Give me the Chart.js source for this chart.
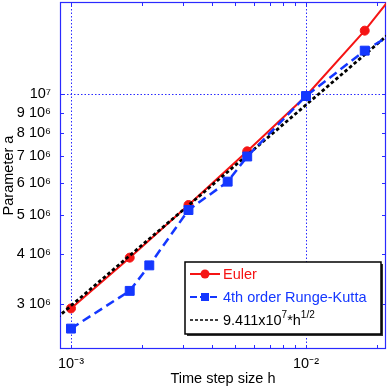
<!DOCTYPE html>
<html>
<head>
<meta charset="utf-8">
<script src="https://cdn.jsdelivr.net/npm/chart.js@4.4.1/dist/chart.umd.min.js"></script>
<style>
  html, body { margin: 0; padding: 0; background: #fff; }
  #wrap { width: 388px; height: 390px; }
</style>
</head>
<body>
<div id="wrap"><canvas id="chart" width="388" height="390"></canvas></div>
<script>
// values
const hEuler = [1e-3, 1.778e-3, 3.162e-3, 5.623e-3, 1e-2, 1.778e-2, 3.162e-2];
const aEuler = [2.93e6, 3.92e6, 5.30e6, 7.21e6, 9.90e6, 1.44e7, 2.20e7];

const hRK = [1e-3, 1.778e-3, 2.154e-3, 3.162e-3, 4.642e-3, 5.623e-3, 1e-2, 1.778e-2, 3.162e-2];
const aRK = [2.61e6, 3.24e6, 3.75e6, 5.15e6, 6.06e6, 7.00e6, 9.90e6, 1.284e7, 1.57e7];

// 9.411e7 * h^(1/2), the two ends lie just past the axis limits
const hFit = [8e-4, 2.5e-2];
const aFit = [2.66e6, 1.488e7];

const xTickValues = [1e-3, 1e-2];
const xTickLabels = ['10⁻³', '10⁻²'];
const xMinorTicks = [2e-3, 3e-3, 4e-3, 5e-3, 6e-3, 7e-3, 8e-3, 9e-3, 2e-2];

const yTickValues = [3e6, 4e6, 5e6, 6e6, 7e6, 8e6, 9e6, 1e7];
const yTickLabels = ['3 10⁶', '4 10⁶', '5 10⁶', '6 10⁶', '7 10⁶', '8 10⁶', '9 10⁶', '10⁷'];
const yGridValues = [1e7];

const seriesNames = ['Euler', '4th order Runge-Kutta'];
const fitLabelParts = [['9.411x10', false], ['7', true], ['*h', false], ['1/2', true]];

const RED = '#f51414';
const BLUE = '#1437ff';
const AXIS_BLUE = '#2a2aff';
const FONT = '"Liberation Sans", Arial, Helvetica, sans-serif';

const toPoints = (xs, ys) => xs.map((x, i) => ({ x: x, y: ys[i] }));

// box, inward ticks and dotted decade grid like matlab
const frame = {
    id: 'frame',
    beforeDatasetsDraw(chart) {
        const { ctx, chartArea: a, scales: { x, y } } = chart;
        ctx.save();
        ctx.strokeStyle = AXIS_BLUE;
        ctx.lineWidth = 1;

        ctx.setLineDash([1.5, 2]);
        ctx.beginPath();
        xTickValues.forEach(v => {
            const px = Math.round(x.getPixelForValue(v)) + 0.5;
            ctx.moveTo(px, a.top);
            ctx.lineTo(px, a.bottom);
        });
        yGridValues.forEach(v => {
            const py = Math.round(y.getPixelForValue(v)) + 0.5;
            ctx.moveTo(a.left, py);
            ctx.lineTo(a.right, py);
        });
        ctx.stroke();
        ctx.setLineDash([]);

        const len = 4;
        ctx.beginPath();
        xTickValues.concat(xMinorTicks).forEach(v => {
            const px = Math.round(x.getPixelForValue(v)) + 0.5;
            ctx.moveTo(px, a.bottom);
            ctx.lineTo(px, a.bottom - len);
            ctx.moveTo(px, a.top);
            ctx.lineTo(px, a.top + len);
        });
        yTickValues.forEach(v => {
            const py = Math.round(y.getPixelForValue(v)) + 0.5;
            ctx.moveTo(a.left, py);
            ctx.lineTo(a.left + len, py);
            ctx.moveTo(a.right, py);
            ctx.lineTo(a.right - len, py);
        });
        ctx.stroke();

        ctx.lineWidth = 1.2;
        ctx.strokeRect(a.left + 0.5, a.top + 0.5, a.right - a.left - 1, a.bottom - a.top - 1);
        ctx.restore();
    },
    afterDraw(chart) {
        const { ctx, chartArea: a } = chart;
        const bw = 196, bh = 72;
        const bx = a.right - bw - 5, by = a.top + 260;
        ctx.save();
        ctx.fillStyle = '#333';
        ctx.fillRect(bx + 2, by + 2, bw, bh);
        ctx.fillStyle = '#fff';
        ctx.fillRect(bx, by, bw, bh);
        ctx.strokeStyle = '#000';
        ctx.lineWidth = 1.5;
        ctx.strokeRect(bx, by, bw, bh);

        ctx.textBaseline = 'middle';
        chart.data.datasets.forEach((ds, i) => {
            const cy = by + 12 + i * 23;
            const x0 = bx + 5, x1 = bx + 35, xm = bx + 20;
            ctx.strokeStyle = ds.borderColor;
            ctx.lineWidth = i === 2 ? 1.5 : 2;
            ctx.setLineDash(i === 0 ? [] : (i === 1 ? [7, 3] : [3, 2]));
            ctx.beginPath();
            ctx.moveTo(x0, cy);
            ctx.lineTo(x1, cy);
            ctx.stroke();
            ctx.setLineDash([]);
            ctx.fillStyle = ds.borderColor;
            if (ds.pointStyle === 'circle') {
                ctx.beginPath();
                ctx.arc(xm, cy, 4.5, 0, Math.PI * 2);
                ctx.fill();
            } else if (ds.pointStyle === 'rect') {
                ctx.fillRect(xm - 4, cy - 4, 8, 8);
            }

            let tx = x1 + 3;
            if (i < 2) {
                ctx.font = '14.5px ' + FONT;
                ctx.fillText(ds.label, tx, cy + 1);
            } else {
                fitLabelParts.forEach(([txt, sup]) => {
                    ctx.font = (sup ? '10px ' : '14.5px ') + FONT;
                    ctx.fillText(txt, tx, sup ? cy - 5 : cy + 1);
                    tx += ctx.measureText(txt).width;
                });
            }
        });
        ctx.restore();
    }
};

const chart = new Chart(document.getElementById('chart'), {
    type: 'line',
    data: {
        datasets: [
            {
                label: seriesNames[0],
                data: toPoints(hEuler, aEuler),
                borderColor: RED,
                backgroundColor: RED,
                borderWidth: 2,
                pointStyle: 'circle',
                pointRadius: 4.5,
                pointBorderWidth: 1,
                tension: 0,
                order: 3
            },
            {
                label: seriesNames[1],
                data: toPoints(hRK, aRK),
                borderColor: BLUE,
                backgroundColor: BLUE,
                borderWidth: 2.5,
                borderDash: [9, 5],
                pointStyle: 'rect',
                pointRadius: 6.3,
                pointBorderWidth: 1,
                tension: 0,
                order: 1
            },
            {
                label: 'fit',
                data: toPoints(hFit, aFit),
                borderColor: '#000',
                borderWidth: 2.8,
                borderDash: [3.5, 2.5],
                pointRadius: 0,
                pointStyle: false,
                tension: 0,
                order: 2
            }
        ]
    },
    options: {
        responsive: false,
        animation: false,
        layout: { autoPadding: false, padding: { top: 2, right: 2, left: 0, bottom: 0 } },
        plugins: {
            legend: { display: false },
            tooltip: { enabled: false }
        },
        scales: {
            x: {
                type: 'logarithmic',
                min: 8.98e-4,
                max: 2.19e-2,
                afterBuildTicks: s => { s.ticks = xTickValues.map(v => ({ value: v })); },
                afterFit: s => { s.height = 41; s.paddingLeft = 0; s.paddingRight = 0; },
                grid: { display: false, drawTicks: false },
                border: { display: false },
                ticks: {
                    autoSkip: false,
                    maxRotation: 0,
                    padding: 6,
                    color: '#000',
                    font: { family: FONT, size: 14.5 },
                    callback: (v, i) => xTickLabels[i]
                },
                title: {
                    display: true,
                    text: 'Time step size h',
                    color: '#000',
                    font: { family: FONT, size: 14.5 },
                    padding: { top: 0, bottom: 2 }
                }
            },
            y: {
                type: 'logarithmic',
                min: 2.322e6,
                max: 1.697e7,
                afterBuildTicks: s => { s.ticks = yTickValues.map(v => ({ value: v })); },
                afterFit: s => { s.width = 60; s.paddingTop = 0; s.paddingBottom = 0; },
                grid: { display: false, drawTicks: false },
                border: { display: false },
                ticks: {
                    autoSkip: false,
                    padding: 9,
                    color: '#000',
                    font: { family: FONT, size: 14.5 },
                    callback: (v, i) => yTickLabels[i]
                },
                title: {
                    display: true,
                    text: 'Parameter a',
                    color: '#000',
                    font: { family: FONT, size: 14.5 },
                    padding: { top: 0, bottom: 0 }
                }
            }
        }
    },
    plugins: [frame]
});
</script>
</body>
</html>
